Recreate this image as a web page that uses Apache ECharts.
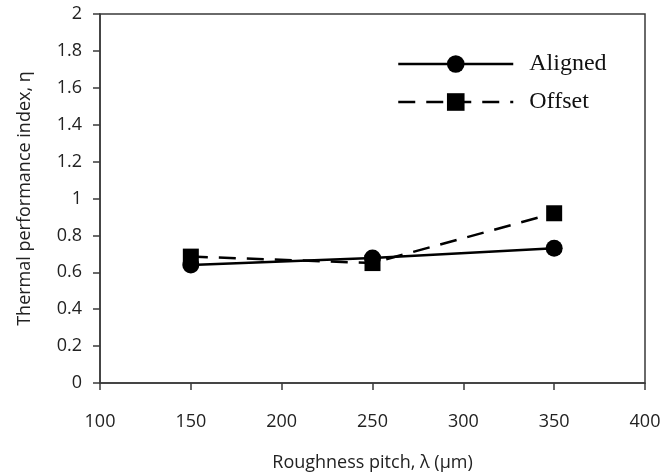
<!DOCTYPE html>
<html>
<head>
<meta charset="utf-8">
<script src="https://cdn.jsdelivr.net/npm/echarts@6/dist/echarts.min.js"></script>
<style>html,body{margin:0;padding:0;background:#fff;}#c{width:665px;height:475px;}</style>
</head>
<body>
<div id="c"></div>
<script>
const pitch = [150, 250, 350];
const aligned = [0.64, 0.678, 0.73];
const offset = [0.685, 0.65, 0.92];
const seriesNames = ['Aligned', 'Offset'];
const xTitle = 'Roughness pitch, \u03bb (\u03bcm)';
const yTitle = 'Thermal performance index, \u03b7';

const chart = echarts.init(document.getElementById('c'), null, {renderer: 'canvas'});
const axisCol = '#3a3a3a';
const tickFont = {fontFamily: 'Open Sans', fontSize: 18, color: '#222'};
chart.setOption({
  animation: false,
  backgroundColor: '#fff',
  grid: {left: 100, right: 20, top: 14, bottom: 92, show: true, borderColor: axisCol, borderWidth: 1.5,
         containLabel: false, outerBoundsMode: 'none'},
  legend: {
    orient: 'vertical', left: 397, top: 52, padding: 0,
    itemWidth: 115, itemHeight: 22, itemGap: 14,
    lineStyle: {width: 2.5},
    textStyle: {fontFamily: 'Liberation Serif', fontSize: 24, color: '#111', padding: [0, 0, 0, 11]},
    data: seriesNames
  },
  xAxis: {
    type: 'value', min: 100, max: 400, interval: 50,
    name: xTitle, nameLocation: 'middle', nameGap: 71,
    nameTextStyle: {fontFamily: 'Open Sans', fontSize: 18, color: '#222'},
    axisLine: {lineStyle: {color: axisCol, width: 1.5}},
    axisTick: {show: true, inside: false, length: 7, lineStyle: {color: axisCol, width: 1.5}},
    axisLabel: Object.assign({margin: 30}, tickFont),
    splitLine: {show: false}
  },
  yAxis: {
    type: 'value', min: 0, max: 2, interval: 0.2,
    name: yTitle, nameLocation: 'middle', nameGap: 66,
    nameTextStyle: {fontFamily: 'Open Sans', fontSize: 18, color: '#222'},
    axisLine: {show: true, lineStyle: {color: axisCol, width: 1.5}},
    axisTick: {show: true, inside: false, length: 7, lineStyle: {color: axisCol, width: 1.5}},
    axisLabel: Object.assign({margin: 18}, tickFont),
    splitLine: {show: false}
  },
  series: [
    {
      name: seriesNames[0], type: 'line',
      data: pitch.map((p, i) => [p, aligned[i]]),
      symbol: 'circle', symbolSize: 17,
      lineStyle: {color: '#000', width: 2.5, type: 'solid'},
      itemStyle: {color: '#000'}
    },
    {
      name: seriesNames[1], type: 'line',
      data: pitch.map((p, i) => [p, offset[i]]),
      symbol: 'rect', symbolSize: 16,
      lineStyle: {color: '#000', width: 2.5, type: [17, 11]},
      itemStyle: {color: '#000'}
    }
  ]
});
</script>
</body>
</html>
